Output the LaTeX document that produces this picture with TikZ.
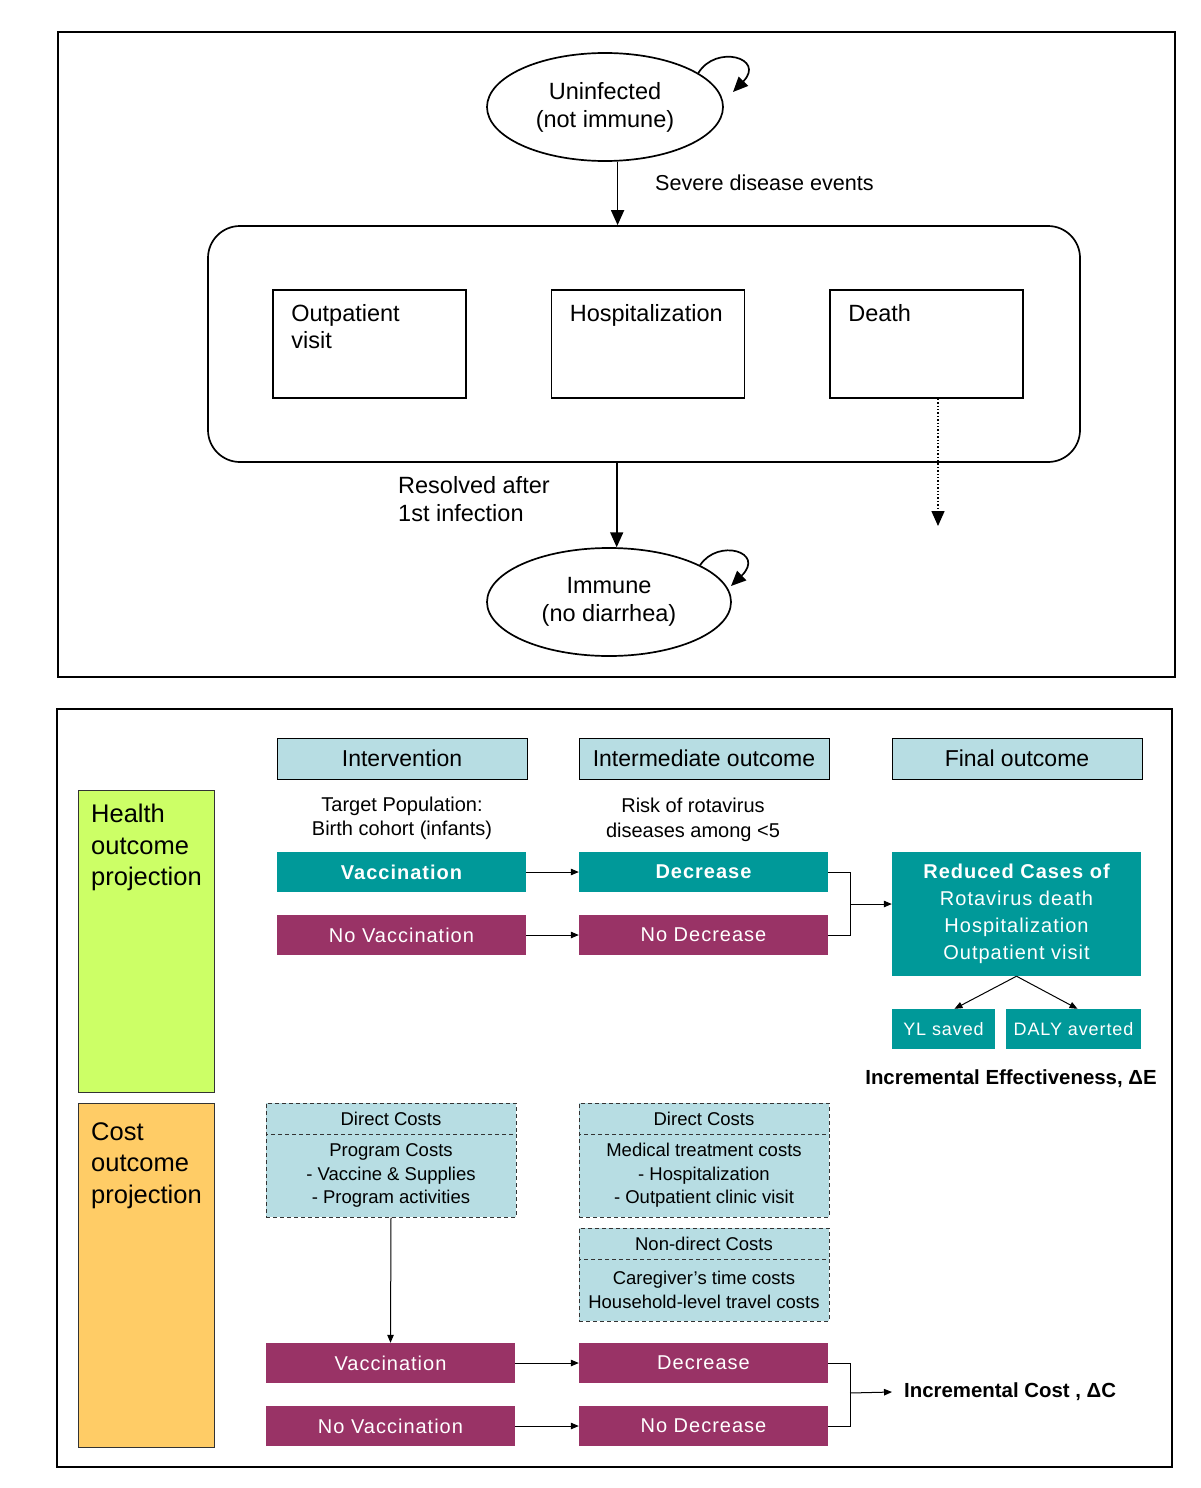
\documentclass[tikz,border=0pt]{standalone}
\usepackage{fontspec}
\setmainfont{Liberation Sans}
\newfontfamily\spc[LetterSpace=5]{Liberation Sans}
\usetikzlibrary{shapes.geometric,arrows.meta,calc}
\definecolor{teal1}{HTML}{009999}
\definecolor{plum1}{HTML}{993366}
\definecolor{lblue}{HTML}{B7DDE3}
\definecolor{lime1}{HTML}{CCFF66}
\definecolor{gold1}{HTML}{FFCC66}
\begin{document}
\begin{tikzpicture}[x=1pt,y=-1pt,
  sz/.style 2 args={minimum width=#1,minimum height=#2},
  state/.style={ellipse,draw,line width=1.7pt,inner sep=0,align=center,font=\fontsize{23.5}{28}\selectfont},
  evbox/.style={rectangle,draw,line width=1.7pt,sz={193}{108}},
  evtxt/.style={anchor=north west,inner sep=0,align=left,font=\fontsize{23.5}{27}\selectfont},
  bigtip/.style={-{Triangle[length=15pt,width=13pt]}},
  bigarrow/.style={line width=1.7pt,bigtip},
  lbl/.style={inner sep=0,align=left,font=\fontsize{22.5}{28}\selectfont},
  hdr/.style={rectangle,draw,line width=1pt,fill=lblue,sz={250}{41},font=\fontsize{23}{28}\selectfont},
  tealbox/.style={rectangle,fill=teal1,text=white,sz={249}{40},font=\spc\fontsize{20}{27}\selectfont},
  plumbox/.style={rectangle,fill=plum1,text=white,sz={249}{40},font=\spc\fontsize{20}{27}\selectfont},
  cbox/.style={rectangle,draw=black!80,dash pattern=on 4pt off 3pt,line width=1pt,fill=lblue,align=center,font=\fontsize{18.5}{23.5}\selectfont},
  side/.style={rectangle,draw=black!80,line width=1pt,sz={136}{#1}},
  sidetxt/.style={anchor=north west,inner sep=0,align=left,font=\fontsize{25.5}{31.5}\selectfont},
  sarrow/.style={line width=1pt,-{Triangle[length=8pt,width=6.5pt]}},
  sline/.style={line width=1pt},
  bold/.style={inner sep=0,font=\bfseries\fontsize{20.4}{24}\selectfont}
]
\useasboundingbox (0,0) rectangle (1200,1488);

% ---------- top panel ----------
\node[draw,line width=1.7pt,sz={1117}{645}] (toppanel) at (616.5,354.5) {};
\node[state,sz={236}{108}] (unf) at (605,107) {Uninfected\\(not immune)};
\node[rectangle,draw,line width=1.7pt,rounded corners=32pt,sz={872}{236}] (grp) at (644,344) {};
\node[evbox] (op) at (369.5,344) {};
\node[evbox] (hosp) at (648,344) {};
\node[evbox] (death) at (926.5,344) {};
\node[evtxt] (optxt) at ($(op.north west)+(19,15)$) {Outpatient\\visit};
\node[evtxt] (hosptxt) at ($(hosp.north west)+(19,15)$) {Hospitalization};
\node[evtxt] (deathtxt) at ($(death.north west)+(19,15)$) {Death};
\node[state,sz={244}{108}] (imm) at (609,602) {Immune\\(no diarrhea)};

\node[lbl,anchor=west,font=\fontsize{21.6}{28}\selectfont] (sev) at (655,183) {Severe disease events};
\node[lbl,anchor=west,font=\fontsize{23.5}{28}\selectfont] (res) at (398,499) {Resolved after\\1st infection};

\draw[bigarrow] (unf.-77) -- (unf.-77 |- grp.north);
\draw[bigarrow] (imm.82 |- grp.south) -- (imm.82);
\coordinate (dend) at (938,526);
\draw[line width=1.4pt,dotted,bigtip] (death.south -| dend) -- (dend);

\coordinate (uloop) at (733,92);
\draw[line width=1.7pt,bigtip] (unf.20) .. controls (716,44) and (766,58) .. (uloop);
\coordinate (iloop) at (731,586);
\draw[line width=1.7pt,bigtip] (imm.22) .. controls (718,538) and (766,552) .. (iloop);

% ---------- bottom panel ----------
\node[draw,line width=1.3pt,sz={1115}{758}] (botpanel) at (614.5,1088) {};

\node[side=302,fill=lime1] (health) at (146,941) {};
\node[sidetxt] (healthtxt) at (91,804) {Health\\outcome\\projection};
\node[side=344,fill=gold1] (cost) at (146,1275) {};
\node[sidetxt] (costtxt) at (91,1122) {Cost\\outcome\\projection};

\node[hdr] (hint) at (402,758.5) {Intervention};
\node[hdr] (hmid) at (704,758.5) {Intermediate outcome};
\node[hdr] (hfin) at (1017,758.5) {Final outcome};

\node[inner sep=0,align=center,font=\fontsize{20}{24}\selectfont] (tp) at (402,818) {Target Population:\\Birth cohort (infants)};
\node[inner sep=0,align=center,font=\fontsize{20}{25}\selectfont] (risk) at (693,820) {Risk of rotavirus\\diseases among <5};

\node[tealbox] (vac) at (401.5,872) {\bfseries Vaccination};
\node[tealbox] (dec) at (703.5,872) {\bfseries Decrease};
\node[plumbox] (novac) at (401.5,935) {No Vaccination};
\node[plumbox] (nodec) at (703.5,935) {No Decrease};
\node[tealbox,sz={249}{124},align=center] (red) at (1016.5,914) {\bfseries Reduced Cases of\\Rotavirus death\\Hospitalization\\Outpatient visit};
\node[tealbox,sz={103}{40},font=\spc\fontsize{18}{22}\selectfont] (yl) at (943.5,1029) {YL saved};
\node[tealbox,sz={135}{40},font=\spc\fontsize{18}{22}\selectfont] (daly) at (1073.5,1029) {DALY averted};
\node[bold] (ie) at (1011,1079) {Incremental Effectiveness, ΔE};

\draw[sarrow] (vac.east) -- (dec.west);
\draw[sarrow] (novac.east) -- (nodec.west);
\coordinate (j1) at (850,904);
\draw[sline] (dec.east) -| (j1) |- (nodec.east);
\draw[sarrow] (j1) -- (j1 -| red.west);
\draw[sarrow] (red.south) -- ($(yl.north)+(11,0)$);
\draw[sarrow] (red.south) -- ($(daly.north)+(4,0)$);

% cost boxes
\node[cbox,sz={250}{31}] (ahd) at (391,1118.5) {Direct Costs};
\node[cbox,sz={250}{83}] (abd) at (391,1175.5) {Program Costs\\- Vaccine \& Supplies\\- Program activities};
\node[cbox,sz={250}{31}] (bhd) at (704,1118.5) {Direct Costs};
\node[cbox,sz={250}{83}] (bbd) at (704,1175.5) {Medical treatment costs\\- Hospitalization\\- Outpatient clinic visit};
\node[cbox,sz={250}{31}] (chd) at (704,1243.5) {Non-direct Costs};
\node[cbox,sz={250}{62}] (cbd) at (704,1290) {Caregiver's time costs\\Household-level travel costs};

\node[plumbox] (vac2) at (390.5,1363) {Vaccination};
\node[plumbox] (dec2) at (703.5,1363) {Decrease};
\node[plumbox] (novac2) at (390.5,1426) {No Vaccination};
\node[plumbox] (nodec2) at (703.5,1426) {No Decrease};

\draw[sarrow] (abd.south) -- (vac2.north);
\draw[sarrow] (vac2.east) -- (dec2.west);
\draw[sarrow] (novac2.east) -- (nodec2.west);
\coordinate (j2) at (850,1393);
\draw[sline] (dec2.east) -| (j2) |- (nodec2.east);
\node[bold,anchor=west,inner xsep=12pt] (ic) at (892,1392) {Incremental Cost , ΔC};
\draw[sarrow] (j2) -- (ic.west);
\end{tikzpicture}
\end{document}
